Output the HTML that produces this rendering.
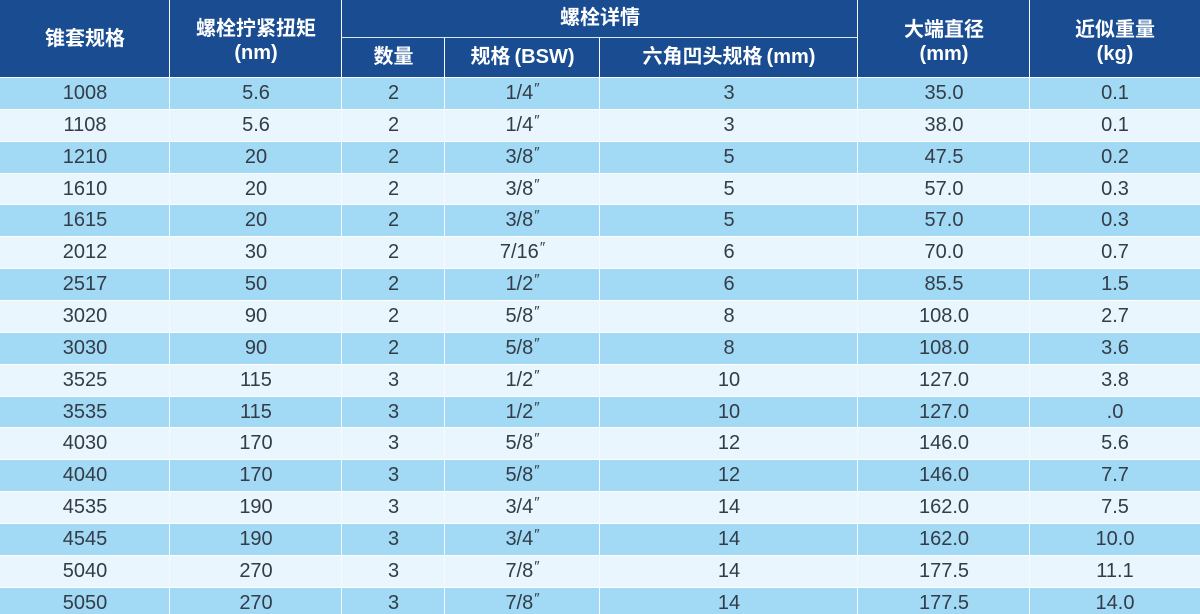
<!DOCTYPE html>
<html><head><meta charset="utf-8"><style>
html,body{margin:0;padding:0;background:#e9f6fd;}
#w{position:relative;width:1200px;height:614px;overflow:hidden;background:#e9f6fd;font-family:"Liberation Sans","Noto Sans CJK SC",sans-serif;}
.hd{position:absolute;left:0;top:0;width:1200px;height:77px;background:#1a4c92;}
.ht{position:absolute;color:#fff;font-family:"Liberation Sans","Noto Sans CJK SC",sans-serif;font-weight:bold;font-size:20px;text-align:center;white-space:nowrap;}
.row{position:absolute;left:0;width:1200px;display:flex;border-top:1px solid #fff;box-sizing:border-box;}
.row.a{background:#a2d9f4;}
.row.b{background:#e9f6fd;}
.row div{text-align:center;font-size:20px;color:#333c47;white-space:nowrap;}
.c0{width:170px}.c1{width:172px}.c2{width:103px}.c3{width:155px}.c4{width:258px}.c5{width:172px}.c6{width:170px}
.v{position:absolute;top:0;width:1px;height:614px;background:#f4faff;}
.m{font-size:15px;position:relative;top:-6px;margin-left:1px;}
.p{margin-left:4px;}
</style></head><body><div id="w">
<div class="hd"></div>
<div style="position:absolute;left:342px;top:37px;width:516px;height:1px;background:#d8e8f6;"></div>

<div class="ht" style="left:0;width:170px;top:26px;line-height:26px;">锥套规格</div>
<div class="ht" style="left:170px;width:172px;top:17px;line-height:24px;">螺栓拧紧扭矩<br>(nm)</div>
<div class="ht" style="left:342px;width:516px;top:5px;line-height:26px;">螺栓详情</div>
<div class="ht" style="left:342px;width:103px;top:44px;line-height:26px;">数量</div>
<div class="ht" style="left:445px;width:155px;top:44px;line-height:26px;">规格<span class="p">(BSW)</span></div>
<div class="ht" style="left:600px;width:258px;top:44px;line-height:26px;">六角凹头规格<span class="p">(mm)</span></div>
<div class="ht" style="left:858px;width:172px;top:18px;line-height:24px;">大端直径<br>(mm)</div>
<div class="ht" style="left:1030px;width:170px;top:18px;line-height:24px;">近似重量<br>(kg)</div>

<div class="row a" style="top:77px;height:32px;line-height:31px;"><div class="c0">1008</div><div class="c1">5.6</div><div class="c2">2</div><div class="c3">1/4<span class="m">″</span></div><div class="c4">3</div><div class="c5">35.0</div><div class="c6">0.1</div></div>
<div class="row b" style="top:109px;height:32px;line-height:31px;"><div class="c0">1108</div><div class="c1">5.6</div><div class="c2">2</div><div class="c3">1/4<span class="m">″</span></div><div class="c4">3</div><div class="c5">38.0</div><div class="c6">0.1</div></div>
<div class="row a" style="top:141px;height:32px;line-height:31px;"><div class="c0">1210</div><div class="c1">20</div><div class="c2">2</div><div class="c3">3/8<span class="m">″</span></div><div class="c4">5</div><div class="c5">47.5</div><div class="c6">0.2</div></div>
<div class="row b" style="top:173px;height:31px;line-height:30px;"><div class="c0">1610</div><div class="c1">20</div><div class="c2">2</div><div class="c3">3/8<span class="m">″</span></div><div class="c4">5</div><div class="c5">57.0</div><div class="c6">0.3</div></div>
<div class="row a" style="top:204px;height:32px;line-height:31px;"><div class="c0">1615</div><div class="c1">20</div><div class="c2">2</div><div class="c3">3/8<span class="m">″</span></div><div class="c4">5</div><div class="c5">57.0</div><div class="c6">0.3</div></div>
<div class="row b" style="top:236px;height:32px;line-height:31px;"><div class="c0">2012</div><div class="c1">30</div><div class="c2">2</div><div class="c3">7/16<span class="m">″</span></div><div class="c4">6</div><div class="c5">70.0</div><div class="c6">0.7</div></div>
<div class="row a" style="top:268px;height:32px;line-height:31px;"><div class="c0">2517</div><div class="c1">50</div><div class="c2">2</div><div class="c3">1/2<span class="m">″</span></div><div class="c4">6</div><div class="c5">85.5</div><div class="c6">1.5</div></div>
<div class="row b" style="top:300px;height:32px;line-height:31px;"><div class="c0">3020</div><div class="c1">90</div><div class="c2">2</div><div class="c3">5/8<span class="m">″</span></div><div class="c4">8</div><div class="c5">108.0</div><div class="c6">2.7</div></div>
<div class="row a" style="top:332px;height:32px;line-height:31px;"><div class="c0">3030</div><div class="c1">90</div><div class="c2">2</div><div class="c3">5/8<span class="m">″</span></div><div class="c4">8</div><div class="c5">108.0</div><div class="c6">3.6</div></div>
<div class="row b" style="top:364px;height:32px;line-height:31px;"><div class="c0">3525</div><div class="c1">115</div><div class="c2">3</div><div class="c3">1/2<span class="m">″</span></div><div class="c4">10</div><div class="c5">127.0</div><div class="c6">3.8</div></div>
<div class="row a" style="top:396px;height:31px;line-height:30px;"><div class="c0">3535</div><div class="c1">115</div><div class="c2">3</div><div class="c3">1/2<span class="m">″</span></div><div class="c4">10</div><div class="c5">127.0</div><div class="c6">.0</div></div>
<div class="row b" style="top:427px;height:32px;line-height:31px;"><div class="c0">4030</div><div class="c1">170</div><div class="c2">3</div><div class="c3">5/8<span class="m">″</span></div><div class="c4">12</div><div class="c5">146.0</div><div class="c6">5.6</div></div>
<div class="row a" style="top:459px;height:32px;line-height:31px;"><div class="c0">4040</div><div class="c1">170</div><div class="c2">3</div><div class="c3">5/8<span class="m">″</span></div><div class="c4">12</div><div class="c5">146.0</div><div class="c6">7.7</div></div>
<div class="row b" style="top:491px;height:32px;line-height:31px;"><div class="c0">4535</div><div class="c1">190</div><div class="c2">3</div><div class="c3">3/4<span class="m">″</span></div><div class="c4">14</div><div class="c5">162.0</div><div class="c6">7.5</div></div>
<div class="row a" style="top:523px;height:32px;line-height:31px;"><div class="c0">4545</div><div class="c1">190</div><div class="c2">3</div><div class="c3">3/4<span class="m">″</span></div><div class="c4">14</div><div class="c5">162.0</div><div class="c6">10.0</div></div>
<div class="row b" style="top:555px;height:32px;line-height:31px;"><div class="c0">5040</div><div class="c1">270</div><div class="c2">3</div><div class="c3">7/8<span class="m">″</span></div><div class="c4">14</div><div class="c5">177.5</div><div class="c6">11.1</div></div>
<div class="row a" style="top:587px;height:32px;line-height:31px;"><div class="c0">5050</div><div class="c1">270</div><div class="c2">3</div><div class="c3">7/8<span class="m">″</span></div><div class="c4">14</div><div class="c5">177.5</div><div class="c6">14.0</div></div>

<div class="v" style="left:169px;"></div>
<div class="v" style="left:341px;"></div>
<div class="v" style="left:444px;top:37px;height:577px;"></div>
<div class="v" style="left:599px;top:37px;height:577px;"></div>
<div class="v" style="left:857px;"></div>
<div class="v" style="left:1029px;"></div>
</div></body></html>
